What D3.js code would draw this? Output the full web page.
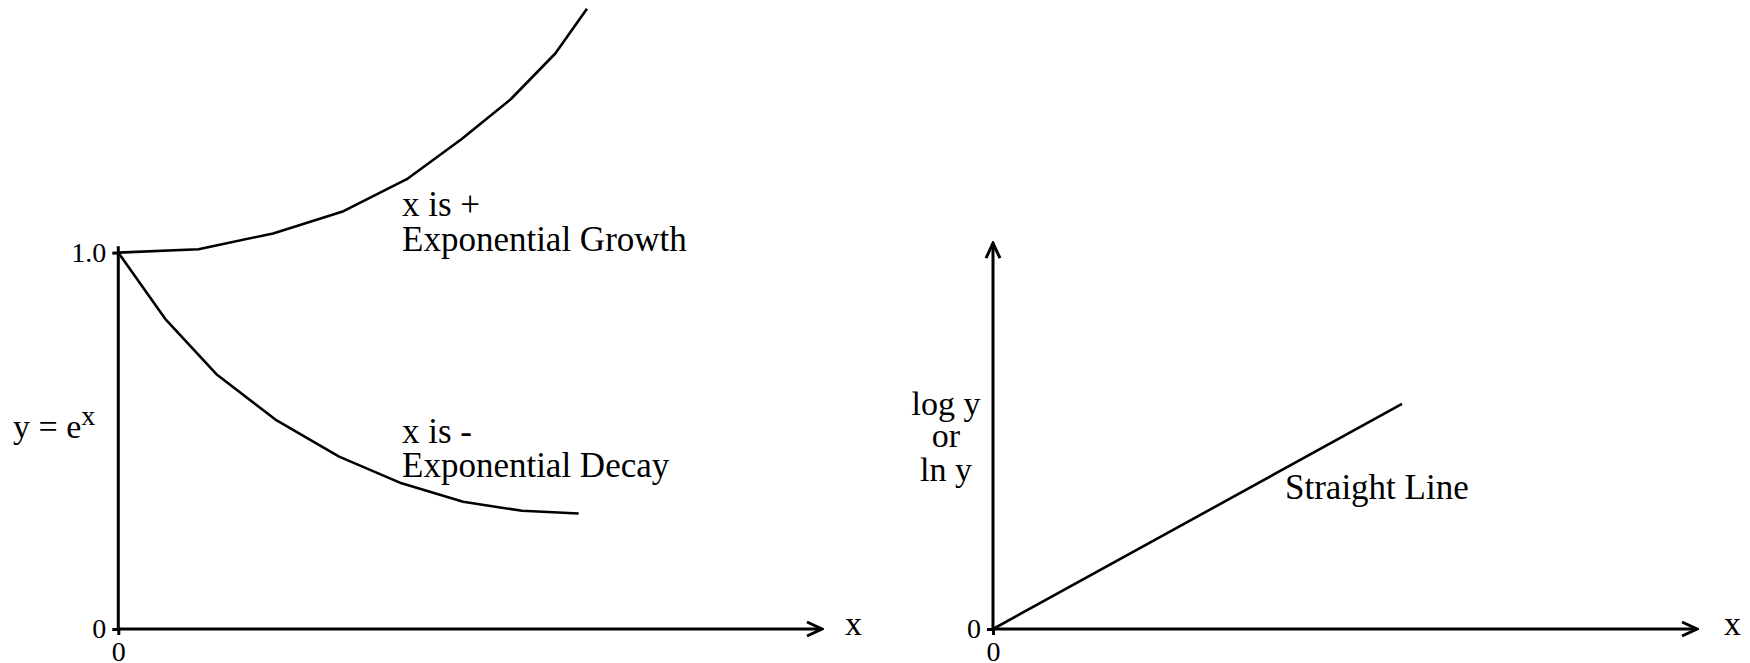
<!DOCTYPE html>
<html>
<head>
<meta charset="utf-8">
<script src="https://cdn.jsdelivr.net/npm/d3@7"></script>
<style>
  html, body { margin: 0; padding: 0; background: #fff; }
  svg { display: block; }
  text { font-family: "Liberation Serif", "Times New Roman", serif; fill: #000; }
</style>
</head>
<body>
<svg id="chart" width="1750" height="663"></svg>
<script>
// ---- Data ----
const growthX = [0, 1.14, 2.20, 3.20, 4.10, 4.88, 5.58, 6.21, 6.66];
const growthY = [1.0, 1.009, 1.051, 1.110, 1.195, 1.302, 1.408, 1.529, 1.648];
const decayX  = [0, 0.666, 1.394, 2.251, 3.138, 4.026, 4.90, 5.737, 6.542];
const decayY  = [1.0, 0.824, 0.677, 0.554, 0.458, 0.387, 0.338, 0.314, 0.307];
const lineX   = [0, 5.81];
const lineY   = [0, 0.598];
const leftYTicks = [0, 1.0];
const leftYTickLabels = ["0", "1.0"];
const xTicks = [0];
const xTickLabels = ["0"];
const rightYTicks = [0];
const rightYTickLabels = ["0"];

const svg = d3.select("#chart");
const W = 1750, H = 663;

// ---- Scales ----
const xL = d3.scaleLinear().domain([0, 10]).range([118.3, 822]);
const yL = d3.scaleLinear().domain([0, 1]).range([629, 252.6]);
const xR = d3.scaleLinear().domain([0, 10]).range([993, 1697]);
const yR = d3.scaleLinear().domain([0, 1]).range([629, 252.6]);

// arrow marker
const defs = svg.append("defs");
defs.append("marker")
  .attr("id", "arrow")
  .attr("markerUnits", "userSpaceOnUse")
  .attr("viewBox", "-18 -10 20 20")
  .attr("refX", 0).attr("refY", 0)
  .attr("markerWidth", 20).attr("markerHeight", 20)
  .attr("orient", "auto")
  .append("path")
  .attr("d", "M-15,-7 L0,0 L-15,7")
  .attr("fill", "none").attr("stroke", "#000").attr("stroke-width", 3)
  .attr("stroke-linejoin", "miter");

function styleAxis(g) {
  g.select(".domain").remove();
  g.selectAll(".tick line").attr("stroke", "#000").attr("stroke-width", 3);
  g.selectAll(".tick text")
    .attr("font-family", "Liberation Serif, Times New Roman, serif")
    .attr("font-size", 28).attr("fill", "#000");
}

// ---- Left chart ----
const gL = svg.append("g");
gL.append("g").attr("transform", `translate(${xL(0)},0)`)
  .call(d3.axisLeft(yL).tickValues(leftYTicks)
    .tickFormat((d, i) => leftYTickLabels[i]).tickSize(6).tickPadding(6))
  .call(styleAxis);
gL.append("g").attr("transform", `translate(0,${yL(0)})`)
  .call(d3.axisBottom(xL).tickValues(xTicks)
    .tickFormat((d, i) => xTickLabels[i]).tickSize(6).tickPadding(6))
  .call(styleAxis);

// y axis line (no arrow)
gL.append("line")
  .attr("x1", xL(0)).attr("x2", xL(0))
  .attr("y1", yL(0)).attr("y2", yL(1.017))
  .attr("stroke", "#000").attr("stroke-width", 3);
// x axis with arrow
gL.append("line")
  .attr("x1", xL(0) - 1.5).attr("x2", xL(10))
  .attr("y1", yL(0)).attr("y2", yL(0))
  .attr("stroke", "#000").attr("stroke-width", 3)
  .attr("marker-end", "url(#arrow)");

const lineL = d3.line().x(d => xL(d[0])).y(d => yL(d[1]));
gL.append("path")
  .datum(d3.zip(growthX, growthY))
  .attr("d", lineL).attr("fill", "none")
  .attr("stroke", "#000").attr("stroke-width", 2.6).attr("stroke-linejoin", "round");
gL.append("path")
  .datum(d3.zip(decayX, decayY))
  .attr("d", lineL).attr("fill", "none")
  .attr("stroke", "#000").attr("stroke-width", 2.6).attr("stroke-linejoin", "round");

// labels
const yLab = gL.append("text").attr("x", 13).attr("y", 438).attr("font-size", 34);
yLab.append("tspan").text("y = e");
yLab.append("tspan").attr("dy", -13).attr("font-size", 28).text("x");

gL.append("text").attr("x", xL(10) + 23).attr("y", 635).attr("font-size", 34).text("x");
gL.append("text").attr("x", 402).attr("y", 216).attr("font-size", 35).text("x is +");
gL.append("text").attr("x", 402).attr("y", 251).attr("font-size", 35).text("Exponential Growth");
gL.append("text").attr("x", 402).attr("y", 443).attr("font-size", 35).text("x is -");
gL.append("text").attr("x", 402).attr("y", 477).attr("font-size", 35).text("Exponential Decay");

// ---- Right chart ----
const gR = svg.append("g");
gR.append("g").attr("transform", `translate(${xR(0)},0)`)
  .call(d3.axisLeft(yR).tickValues(rightYTicks)
    .tickFormat((d, i) => rightYTickLabels[i]).tickSize(6).tickPadding(6))
  .call(styleAxis);
gR.append("g").attr("transform", `translate(0,${yR(0)})`)
  .call(d3.axisBottom(xR).tickValues(xTicks)
    .tickFormat((d, i) => xTickLabels[i]).tickSize(6).tickPadding(6))
  .call(styleAxis);

gR.append("line")
  .attr("x1", xR(0)).attr("x2", xR(0))
  .attr("y1", yR(0)).attr("y2", yR(1.025))
  .attr("stroke", "#000").attr("stroke-width", 3)
  .attr("marker-end", "url(#arrow)");
gR.append("line")
  .attr("x1", xR(0) - 1.5).attr("x2", xR(10))
  .attr("y1", yR(0)).attr("y2", yR(0))
  .attr("stroke", "#000").attr("stroke-width", 3)
  .attr("marker-end", "url(#arrow)");

const lineR = d3.line().x(d => xR(d[0])).y(d => yR(d[1]));
gR.append("path")
  .datum(d3.zip(lineX, lineY))
  .attr("d", lineR).attr("fill", "none")
  .attr("stroke", "#000").attr("stroke-width", 2.6);

const yLabR = gR.append("text").attr("font-size", 34).attr("text-anchor", "middle");
[["log y", 415], ["or", 447], ["ln y", 481]].forEach(([t, yy]) => {
  yLabR.append("tspan").attr("x", 946).attr("y", yy).text(t);
});
gR.append("text").attr("x", xR(10) + 27).attr("y", 635).attr("font-size", 34).text("x");
gR.append("text").attr("x", 1285).attr("y", 499).attr("font-size", 35).text("Straight Line");
</script>
</body>
</html>
